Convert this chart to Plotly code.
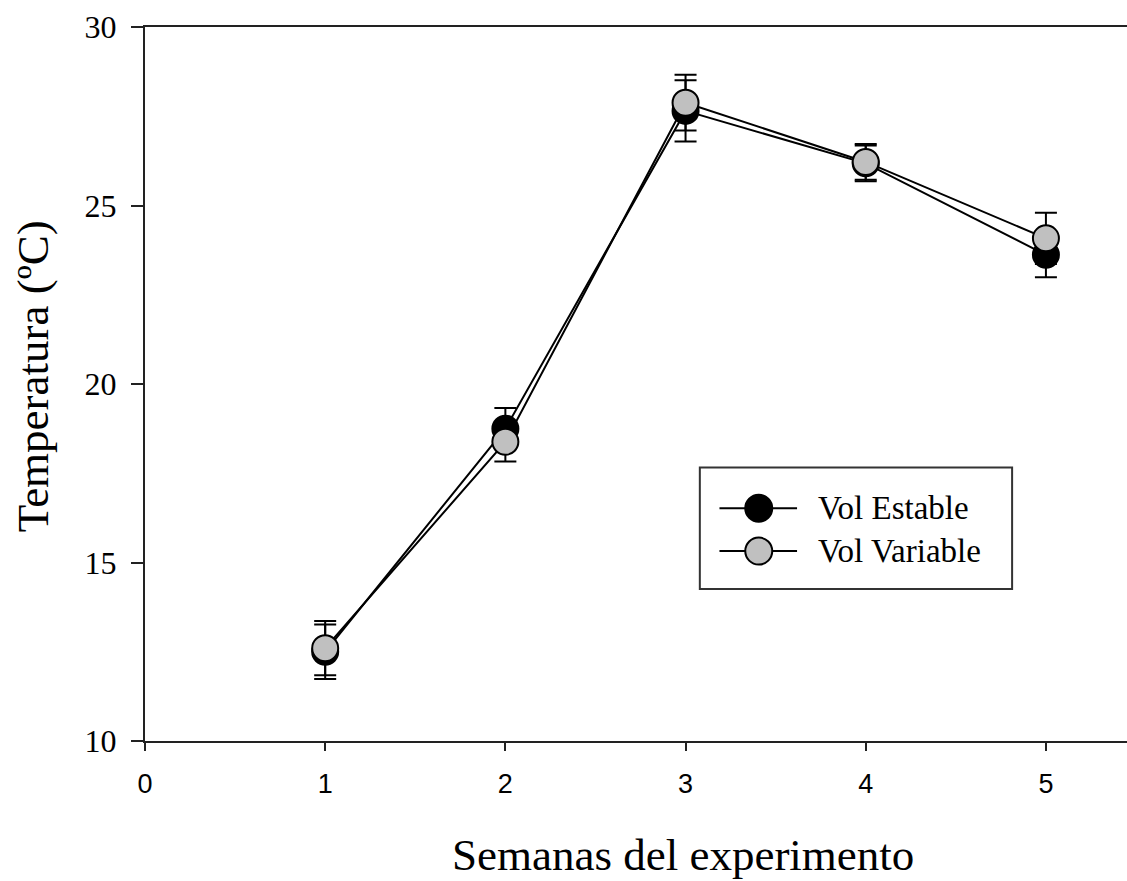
import plotly.graph_objects as go

# Weekly mean temperature (ºC) with standard error, two volume treatments
semanas = [1, 2, 3, 4, 5]
series_names = ["Vol Estable", "Vol Variable"]
temp_estable = [12.50, 18.75, 27.65, 26.18, 23.62]
err_estable = [0.76, 0.58, 0.86, 0.50, 0.63]
temp_variable = [12.60, 18.38, 27.88, 26.22, 24.08]
err_variable = [0.76, 0.55, 0.78, 0.50, 0.72]

x_ticks = [0, 1, 2, 3, 4, 5]
y_ticks = [10, 15, 20, 25, 30]
x_title = "Semanas del experimento"
y_title = "Temperatura (ºC)"

fill_colors = ["#000000", "#c0c0c0"]
serif = "Liberation Serif, Times New Roman, serif"
sans = "Liberation Sans, Arial, sans-serif"

fig = go.Figure()
for name, ys, es, col in zip(series_names,
                             [temp_estable, temp_variable],
                             [err_estable, err_variable],
                             fill_colors):
    fig.add_trace(go.Scatter(
        x=semanas, y=ys, name=name, mode="lines+markers",
        line=dict(color="black", width=2),
        marker=dict(size=26, color=col, line=dict(color="black", width=2)),
        error_y=dict(type="data", array=es, visible=True,
                     color="black", thickness=2, width=11),
        showlegend=False,
    ))

fig.update_layout(
    width=1127, height=881,
    margin=dict(l=145, r=0, t=27, b=140),
    paper_bgcolor="white", plot_bgcolor="white",
    font=dict(family=serif, color="black"),
)

fig.update_xaxes(
    range=[0, 5.45], tickvals=x_ticks, ticktext=[str(v) for v in x_ticks],
    ticks="outside", ticklen=8, tickwidth=2, tickcolor="#222",
    showline=True, linecolor="#222", linewidth=2, mirror=True,
    showgrid=False, zeroline=False, ticklabelstandoff=10,
    tickfont=dict(family=sans, size=27, color="black"),
)
fig.update_yaxes(
    range=[10, 30], tickvals=y_ticks, ticktext=[str(v) for v in y_ticks],
    ticks="outside", ticklen=12, tickwidth=2, tickcolor="#222",
    showline=True, linecolor="#222", linewidth=2,
    showgrid=False, zeroline=False, ticklabelstandoff=8,
    tickfont=dict(family=serif, size=32, color="black"),
)

# Axis titles
fig.add_annotation(xref="paper", yref="paper", x=0.548, y=-0.159,
                   text=x_title, showarrow=False,
                   xanchor="center", yanchor="middle",
                   font=dict(family=serif, size=45, color="black"))
fig.add_annotation(xref="paper", yref="paper", x=-0.114, y=0.511,
                   text=y_title, showarrow=False, textangle=-90,
                   xanchor="center", yanchor="middle",
                   font=dict(family=serif, size=45, color="black"))

# Legend panel drawn with shapes and text
box_x0, box_x1, box_y0, box_y1 = 0.565, 0.883, 0.213, 0.383
fig.add_shape(type="rect", xref="paper", yref="paper",
              x0=box_x0, x1=box_x1, y0=box_y0, y1=box_y1,
              line=dict(color="#333", width=2), fillcolor="white")
row_y = [0.326, 0.266]
line_x0, line_x1, mark_x, text_x = 0.585, 0.664, 0.625, 0.683
for name, col, yy in zip(series_names, fill_colors, row_y):
    fig.add_shape(type="line", xref="paper", yref="paper",
                  x0=line_x0, x1=line_x1, y0=yy, y1=yy,
                  line=dict(color="black", width=2))
    fig.add_shape(type="circle", xref="paper", yref="paper",
                  xsizemode="pixel", ysizemode="pixel",
                  xanchor=mark_x, yanchor=yy,
                  x0=-13.5, x1=13.5, y0=-13.5, y1=13.5,
                  fillcolor=col, line=dict(color="black", width=2))
    fig.add_annotation(xref="paper", yref="paper", x=text_x, y=yy,
                       text=name, showarrow=False, xanchor="left",
                       yanchor="middle",
                       font=dict(family=serif, size=33, color="black"))

fig.write_html("out.html")
